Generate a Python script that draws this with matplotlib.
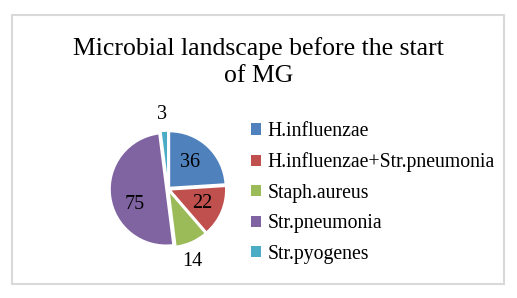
import matplotlib
matplotlib.use("Agg")
import matplotlib.pyplot as plt
from matplotlib.patches import Rectangle, Patch
import numpy as np

categories = ["H.influenzae", "H.influenzae+Str.pneumonia", "Staph.aureus", "Str.pneumonia", "Str.pyogenes"]
values = [36, 22, 14, 75, 3]
colors = ["#4F81BD", "#C0504D", "#9BBB59", "#8064A2", "#4BACC6"]
# label placement style: radial distance and angular shift (degrees)
label_dist = [0.61, 0.66, 1.36, 0.66, 1.33]
label_shift = [3, -1, -5, 17, 1]
title = "Microbial landscape before the start\nof MG"

plt.rcParams['font.family'] = ['Liberation Serif', 'DejaVu Serif']

W, H = 517, 298
fig = plt.figure(figsize=(W/100, H/100), dpi=100)

# border
fig.patches.append(Rectangle((12/W, 1-284/H), (504-12)/W, (284-15)/H, transform=fig.transFigure,
                             fill=False, edgecolor="#d9d9d9", linewidth=1.5))

fig.text(258.5/W, 1-62/H, title, ha="center", va="center", fontsize=18.5, linespacing=1.3)

cx, cy, r = 168, 189, 60
ax = fig.add_axes([(cx-r)/W, 1-(cy+r)/H, 2*r/W, 2*r/H])
wedges, _ = ax.pie(values, colors=colors, startangle=90, counterclock=False,
                   explode=[0.035]*len(values),
                   wedgeprops=dict(edgecolor="white", linewidth=1.2))
ax.set_xlim(-1.07, 1.07)
ax.set_ylim(-1.07, 1.07)
ax.set_aspect("equal")
for w, v, d, s in zip(wedges, values, label_dist, label_shift):
    ang = np.deg2rad((w.theta1 + w.theta2) / 2 + s)
    ax.text(d*np.cos(ang), d*np.sin(ang), str(v), ha="center", va="center", fontsize=14.5)

handles = [Patch(facecolor=c, edgecolor="none") for c in colors]
leg = fig.legend(handles, categories, loc="upper left", bbox_to_anchor=(251/W, 1-122/H),
                 frameon=False, fontsize=14.2, handlelength=0.5, handleheight=0.5,
                 handletextpad=0.35, labelspacing=0.58, borderpad=0, borderaxespad=0)

fig.savefig("out.png", dpi=100)
